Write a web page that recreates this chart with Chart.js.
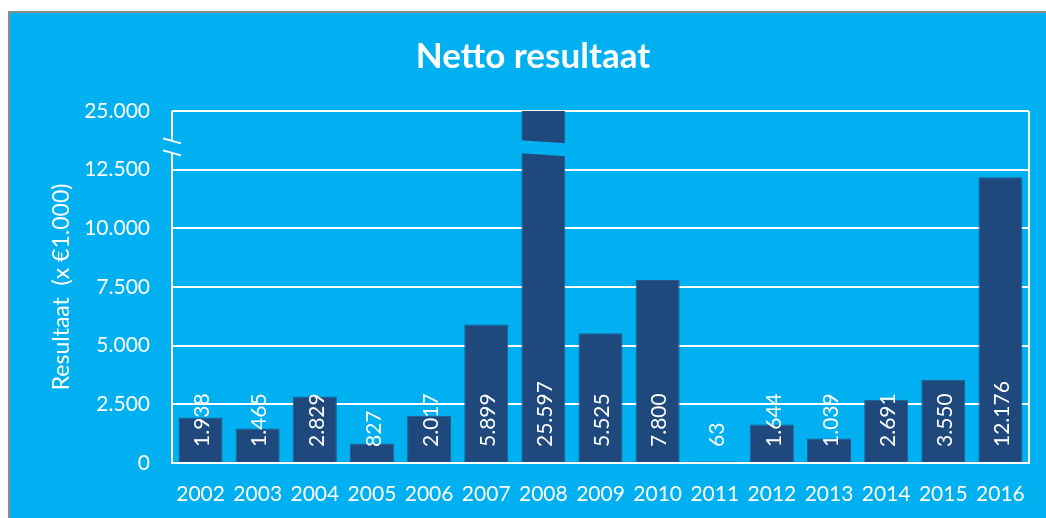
<!DOCTYPE html>
<html>
<head>
<meta charset="utf-8">
<script src="https://cdn.jsdelivr.net/npm/chart.js@4/dist/chart.umd.min.js"></script>
<style>
  body { margin: 0; background: #ffffff; }
  #panel {
    position: absolute; left: 8px; top: 11px;
    border-left: 2px solid #8c8c8c; border-top: 2px solid #8c8c8c;
    background: #00b0f0; width: 1036px; height: 505px;
  }
  canvas { display: block; }
</style>
</head>
<body>
<div id="panel"><canvas id="resultChart" width="1036" height="505"></canvas></div>
<script>
// jaren en netto resultaat (x €1.000)
const jaren = ['2002', '2003', '2004', '2005', '2006', '2007', '2008', '2009', '2010', '2011', '2012', '2013', '2014', '2015', '2016'];
const resultaat = [1938, 1465, 2829, 827, 2017, 5899, 25597, 5525, 7800, 63, 1644, 1039, 2691, 3550, 12176];

// gebroken as: alles boven AS_MAX wordt afgekapt, bovenste tick krijgt label 25.000
const AS_MAX = 15000;
const AS_STAP = 2500;
const bovensteTickLabel = '25.000';
const BREUK_OP = 13450;

function punten(v) {
  return String(v).replace(/\B(?=(\d{3})+(?!\d))/g, '.');
}

Chart.defaults.font.family = 'Lato';
Chart.defaults.color = '#ffffff';

// labels in de staven + asbreuk tekenen
const extraTekenen = {
  id: 'extraTekenen',
  afterDatasetsDraw(chart) {
    const { ctx, chartArea, scales } = chart;
    const y = scales.y;
    const meta = chart.getDatasetMeta(0);
    const breukY = y.getPixelForValue(BREUK_OP);

    ctx.save();
    // breuk in de staaf die boven de as uitkomt
    meta.data.forEach((bar, i) => {
      if (resultaat[i] > AS_MAX) {
        const l = bar.x - bar.width / 2 - 1, r = bar.x + bar.width / 2 + 1;
        ctx.fillStyle = '#00b0f0';
        ctx.beginPath();
        ctx.moveTo(l, breukY - 7);
        ctx.lineTo(r, breukY - 4);
        ctx.lineTo(r, breukY + 9);
        ctx.lineTo(l, breukY + 6);
        ctx.closePath();
        ctx.fill();
      }
    });

    // rand links (met onderbreking) en rechts
    ctx.strokeStyle = '#ffffff';
    ctx.lineWidth = 2;
    ctx.beginPath();
    ctx.moveTo(chartArea.left, chartArea.top);
    ctx.lineTo(chartArea.left, breukY - 6);
    ctx.moveTo(chartArea.left, breukY + 6);
    ctx.lineTo(chartArea.left, chartArea.bottom);
    ctx.moveTo(chartArea.right, chartArea.top);
    ctx.lineTo(chartArea.right, chartArea.bottom);
    ctx.stroke();

    // schuine streepjes op de as
    ctx.beginPath();
    ctx.moveTo(chartArea.left - 9, breukY - 9);
    ctx.lineTo(chartArea.left + 9, breukY - 4);
    ctx.moveTo(chartArea.left - 9, breukY + 3);
    ctx.lineTo(chartArea.left + 9, breukY + 8);
    ctx.stroke();

    // waarden verticaal in de staven
    ctx.fillStyle = '#ffffff';
    ctx.font = '21px Lato';
    ctx.textAlign = 'left';
    ctx.textBaseline = 'middle';
    const basis = y.getPixelForValue(0);
    meta.data.forEach((bar, i) => {
      ctx.save();
      ctx.translate(bar.x + 2, basis - 16);
      ctx.rotate(-Math.PI / 2);
      ctx.fillText(punten(resultaat[i]), 0, 0);
      ctx.restore();
    });
    ctx.restore();
  }
};

const ctx = document.getElementById('resultChart').getContext('2d');

const resultChart = new Chart(ctx, {
  type: 'bar',
  data: {
    labels: jaren,
    datasets: [{
      label: 'Netto resultaat',
      data: resultaat,
      backgroundColor: '#1f497d',
      borderColor: '#2b5a8f',
      borderWidth: 1,
      barPercentage: 0.77,
      categoryPercentage: 1
    }]
  },
  options: {
    responsive: false,
    animation: false,
    layout: { padding: { left: 10, right: 0, top: 0, bottom: 0 } },
    plugins: {
      legend: { display: false },
      tooltip: { enabled: false },
      title: {
        display: true,
        text: 'Netto resultaat',
        color: '#ffffff',
        font: { size: 35, weight: 'bold' },
        padding: { top: 23, bottom: 33 }
      }
    },
    scales: {
      x: {
        grid: { display: false, drawTicks: false },
        border: { display: true, color: '#ffffff', width: 2 },
        ticks: { color: '#ffffff', font: { size: 21 }, padding: 19, maxRotation: 0 },
        afterFit(scale) { scale.height = 55; }
      },
      y: {
        min: 0,
        max: AS_MAX,
        grid: { color: '#ffffff', lineWidth: 2, drawTicks: false },
        border: { display: false },
        ticks: {
          stepSize: AS_STAP,
          color: '#ffffff',
          font: { size: 21 },
          padding: 22,
          callback: (v) => v === AS_MAX ? bovensteTickLabel : punten(v)
        },
        title: {
          display: true,
          text: 'Resultaat  (x €1.000)',
          color: '#ffffff',
          font: { size: 23 },
          padding: { top: 28, bottom: 0 }
        },
        afterFit(scale) { scale.width = 152; }
      },
      // lege as rechts, alleen voor de marge
      yRechts: {
        position: 'right',
        min: 0,
        max: AS_MAX,
        grid: { display: false, drawTicks: false },
        border: { display: false },
        ticks: { display: false },
        afterFit(scale) { scale.width = 17; }
      }
    }
  },
  plugins: [extraTekenen]
});
</script>
</body>
</html>
